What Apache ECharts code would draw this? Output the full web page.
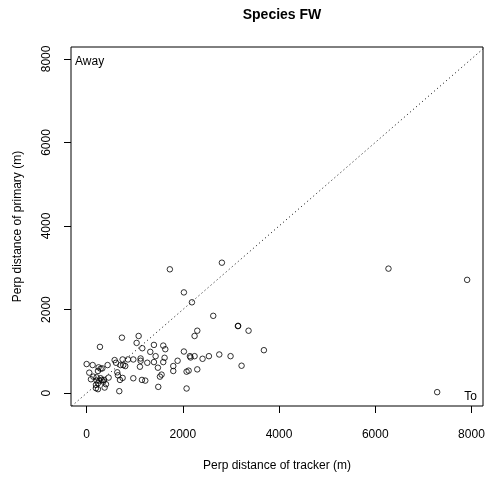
<!DOCTYPE html>
<html>
<head>
<meta charset="utf-8">
<script src="https://cdn.jsdelivr.net/npm/echarts@6/dist/echarts.min.js"></script>
<style>
html,body{margin:0;padding:0;background:#fff;}
#c{width:489px;height:477px;}
</style>
</head>
<body>
<div id="c"></div>
<script>
// Perp distance of tracker (m)
var trackerX = [0,125,55,90,139,208,194,235,235,263,277,249,291,326,235,312,360,346,374,402,457,436,582,610,637,651,679,693,707,734,748,748,762,803,859,970,970,1039,1081,1122,1108,1122,1157,1150,1219,1261,1323,1399,1399,1434,1482,1489,1524,1558,1593,1593,1621,1635,1801,1801,1891,2147,2161,2244,208,291,194,
  1730,2812,2022,2189,2632,3145,3150,3366,3685,6275,7910,7287,3221,2992,2757,2542,2410,2300,2300,2244,2078,2120,2078,2022];
// Perp distance of primary (m)
var primaryY = [696,672,490,332,395,379,198,237,95,300,1107,617,585,593,530,316,316,277,134,213,372,672,791,727,498,427,47,316,672,1328,806,364,672,648,806,806,356,1202,1368,775,632,830,1075,316,300,727,988,1154,743,885,609,150,395,443,1138,743,846,1051,648,530,775,885,854,885,300,356,119,
  2964,3122,2411,2174,1850,1605,1610,1494,1028,2980,2711,24,656,885,925,885,822,569,1494,1368,111,538,514,996];
var xTicks = [0,2000,4000,6000,8000];
var yTicks = [0,2000,4000,6000,8000];
var diagonal = [-1000, 10000];

var pts = trackerX.map(function(x,i){return [x, primaryY[i]];});
var font = 'Liberation Sans, Arial, Helvetica, sans-serif';
var chart = echarts.init(document.getElementById('c'), null, {renderer:'canvas'});
chart.setOption({
  animation:false,
  backgroundColor:'#fff',
  title:{text:'Species FW', left:277, top:3, textAlign:'center',
    textStyle:{fontFamily:font, fontSize:14, fontWeight:'bold', color:'#000'}},
  grid:{left:71, right:6, top:47, bottom:67, show:true, borderColor:'#000', borderWidth:1, backgroundColor:'transparent'},
  xAxis:{type:'value', min:-325, max:8240,
    name:'Perp distance of tracker (m)', nameLocation:'middle', nameGap:54,
    nameTextStyle:{fontFamily:font, fontSize:12, color:'#000'},
    axisLine:{show:false, onZero:false},
    axisTick:{show:true, length:7, customValues:xTicks, lineStyle:{color:'#000'}},
    axisLabel:{customValues:xTicks, margin:23, fontFamily:font, fontSize:12, color:'#000',
      formatter:function(v){return String(v);}},
    splitLine:{show:false}},
  yAxis:{type:'value', min:-308, max:8285,
    name:'Perp distance of primary (m)', nameLocation:'middle', nameGap:47,
    nameTextStyle:{fontFamily:font, fontSize:12, color:'#000'},
    axisLine:{show:false, onZero:false},
    axisTick:{show:true, length:7, customValues:yTicks, lineStyle:{color:'#000'}},
    axisLabel:{customValues:yTicks, rotate:90, margin:18, fontFamily:font, fontSize:12, color:'#000',
      formatter:function(v){return String(v);}},
    splitLine:{show:false}},
  series:[
    {type:'line', data:diagonal.map(function(v){return [v,v];}), showSymbol:false, symbol:'none',
      clip:true, silent:true, lineStyle:{color:'#000', width:1, type:[1,3]}},
    {type:'scatter', data:pts, symbol:'circle', symbolSize:5.5,
      itemStyle:{color:'rgba(0,0,0,0)', borderColor:'#000', borderWidth:1}}
  ],
  graphic:[
    {type:'text', left:75, top:56, style:{text:'Away', font:'12px '+font, fill:'#000'}},
    {type:'text', right:12, top:391, style:{text:'To', font:'12px '+font, fill:'#000'}}
  ]
});
</script>
</body>
</html>
